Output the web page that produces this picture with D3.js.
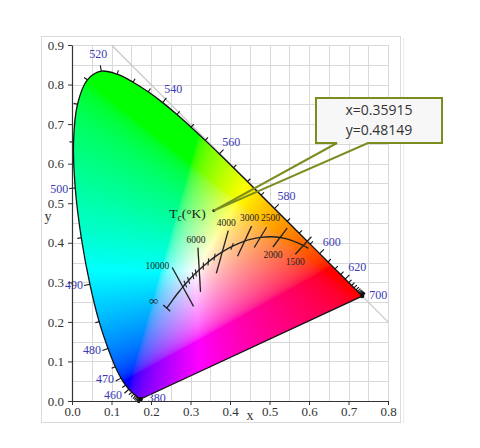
<!DOCTYPE html>
<html>
<head>
<meta charset="utf-8">
<script src="https://cdn.jsdelivr.net/npm/d3@7"></script>
<style>
  html, body { margin: 0; padding: 0; background: #fff; }
  svg { display: block; }
</style>
</head>
<body>
<script>
// CIE 1931 chromaticity diagram with Planckian locus and a hover tooltip

// spectral locus, nm and xy chromaticity
const wavelengths = [380,385,390,395,400,405,410,415,420,425,430,435,440,445,450,455,460,465,470,475,
  480,485,490,495,500,505,510,515,520,525,530,535,540,545,550,555,560,565,570,575,
  580,585,590,595,600,605,610,615,620,625,630,635,640,645,650,655,660,665,670,675,
  680,685,690,695,700];
const locusX = [0.1741,0.1740,0.1738,0.1736,0.1733,0.1730,0.1726,0.1721,0.1714,0.1703,0.1689,0.1669,0.1644,0.1611,0.1566,0.1510,0.1440,0.1355,0.1241,0.1096,
  0.0913,0.0687,0.0454,0.0235,0.0082,0.0039,0.0139,0.0389,0.0743,0.1142,0.1547,0.1929,0.2296,0.2658,0.3016,0.3373,0.3731,0.4087,0.4441,0.4788,
  0.5125,0.5448,0.5752,0.6029,0.6270,0.6482,0.6658,0.6801,0.6915,0.7006,0.7079,0.7140,0.7190,0.7230,0.7260,0.7283,0.7300,0.7311,0.7320,0.7327,
  0.7334,0.7340,0.7344,0.7346,0.7347];
const locusY = [0.0050,0.0050,0.0049,0.0049,0.0048,0.0048,0.0048,0.0048,0.0051,0.0058,0.0069,0.0086,0.0109,0.0138,0.0177,0.0227,0.0297,0.0399,0.0578,0.0868,
  0.1327,0.2007,0.2950,0.4127,0.5384,0.6548,0.7502,0.8120,0.8338,0.8262,0.8059,0.7816,0.7543,0.7243,0.6923,0.6589,0.6245,0.5896,0.5547,0.5202,
  0.4866,0.4544,0.4242,0.3965,0.3725,0.3514,0.3340,0.3197,0.3083,0.2993,0.2920,0.2859,0.2809,0.2770,0.2740,0.2717,0.2700,0.2689,0.2680,0.2673,
  0.2666,0.2660,0.2656,0.2654,0.2653];
const labeledWavelengths = [380,460,470,480,490,500,520,540,560,580,600,620,700];

// Planckian locus, K and xy
const planckT = [Infinity,30000,20000,15000,12000,10000,9000,8000,7000,6500,6000,5500,5000,4500,4000,3500,3000,2800,2500,2200,2000,1800,1600,1500,1400];
const planckX = [0.2399,0.2497,0.2565,0.2637,0.2719,0.2807,0.2869,0.2952,0.3064,0.3135,0.3221,0.3325,0.3451,0.3608,0.3805,0.4053,0.4369,0.4518,0.4770,0.5046,0.5267,0.5497,0.5732,0.5857,0.5985];
const planckY = [0.2348,0.2482,0.2577,0.2674,0.2776,0.2884,0.2956,0.3048,0.3166,0.3237,0.3318,0.3411,0.3516,0.3636,0.3768,0.3907,0.4041,0.4086,0.4137,0.4152,0.4133,0.4081,0.3993,0.3931,0.3858];
const isoTemps = [10000,6000,4000,3000,2500,2000,1500];
const minorTemps = [9000,8000,7000,6500,5500,5000,4500,3500];

const xTicks = [0.0,0.1,0.2,0.3,0.4,0.5,0.6,0.7,0.8];
const yTicks = [0.0,0.1,0.2,0.3,0.4,0.5,0.6,0.7,0.8,0.9];

const hoverPoint = [0.35915, 0.48149];

const width = 480, height = 448;
const x = d3.scaleLinear().domain([0, 0.8]).range([72, 388]);
const y = d3.scaleLinear().domain([0, 0.9]).range([401, 45]);

const svg = d3.select('body').append('svg')
    .attr('width', width)
    .attr('height', height);

// light picture frame
svg.append('rect')
    .attr('x', 41.5).attr('y', 36.5)
    .attr('width', 359).attr('height', 386)
    .attr('fill', 'none').attr('stroke', '#dadada');
svg.append('line')
    .attr('x1', 403.5).attr('x2', 403.5).attr('y1', 38).attr('y2', 423)
    .attr('stroke', '#ececec');

// grid every 0.05
const gridX = d3.range(0, 17).map(function(i) { return i * 0.05; });
const gridY = d3.range(0, 19).map(function(i) { return i * 0.05; });
const grid = svg.append('g').attr('stroke', '#d9d9d9').attr('stroke-width', 1);
grid.selectAll('line.vx').data(gridX).enter().append('line')
    .attr('x1', function(d) { return Math.round(x(d)) + 0.5; })
    .attr('x2', function(d) { return Math.round(x(d)) + 0.5; })
    .attr('y1', y(0)).attr('y2', y(0.9));
grid.selectAll('line.hy').data(gridY).enter().append('line')
    .attr('y1', function(d) { return Math.round(y(d)) + 0.5; })
    .attr('y2', function(d) { return Math.round(y(d)) + 0.5; })
    .attr('x1', x(0)).attr('x2', x(0.8));

// x + y = 1 line
svg.append('line')
    .attr('x1', x(0.1)).attr('y1', y(0.9))
    .attr('x2', x(0.8)).attr('y2', y(0.2))
    .attr('stroke', '#c8c8c8').attr('stroke-width', 1.2);

// locus outline in pixels, smoothed, closed by the purple line
const locusPts = wavelengths.map(function(w, i) { return [x(locusX[i]), y(locusY[i])]; });
const locusPath = d3.line().curve(d3.curveCatmullRom)(locusPts) + 'Z';

svg.append('clipPath').attr('id', 'locus-clip')
    .append('path').attr('d', locusPath);

// colour fill: xy -> XYZ -> sRGB, per pixel
function chroma(cx, cy) {
    const X = cx / cy, Y = 1, Z = (1 - cx - cy) / cy;
    let r =  3.2406 * X - 1.5372 * Y - 0.4986 * Z;
    let g = -0.9689 * X + 1.8758 * Y + 0.0415 * Z;
    let b =  0.0557 * X - 0.2040 * Y + 1.0570 * Z;
    r = Math.max(r, 0); g = Math.max(g, 0); b = Math.max(b, 0);
    const m = Math.max(r, g, b) || 1;
    return [r / m, g / m, b / m].map(function(c) {
        c = c <= 0.0031308 ? 12.92 * c : 1.055 * Math.pow(c, 1 / 2.4) - 0.055;
        return Math.round(255 * Math.min(1, c));
    });
}
const x0 = 72, y0 = 45, cw = 316, ch = 356;
const canvas = document.createElement('canvas');
canvas.width = cw; canvas.height = ch;
const ctx = canvas.getContext('2d');
const img = ctx.createImageData(cw, ch);
for (let j = 0; j < ch; j++) {
    const cy = y.invert(y0 + j + 0.5);
    for (let i = 0; i < cw; i++) {
        const cx = x.invert(x0 + i + 0.5);
        const k = (j * cw + i) * 4;
        if (cy <= 0.002) { img.data[k + 3] = 0; continue; }
        const c = chroma(cx, cy);
        img.data[k] = c[0]; img.data[k + 1] = c[1]; img.data[k + 2] = c[2]; img.data[k + 3] = 255;
    }
}
ctx.putImageData(img, 0, 0);
svg.append('image')
    .attr('x', x0).attr('y', y0)
    .attr('width', cw).attr('height', ch)
    .attr('href', canvas.toDataURL())
    .attr('clip-path', 'url(#locus-clip)');

svg.append('path')
    .attr('d', locusPath)
    .attr('fill', 'none')
    .attr('stroke', '#111')
    .attr('stroke-width', 1.3)
    .attr('stroke-linejoin', 'round');

// outward normal of the locus at index i
function locusNormal(i) {
    let a = i, b = i;
    const p = locusPts[i];
    while (a > 0 && Math.hypot(locusPts[a][0] - p[0], locusPts[a][1] - p[1]) < 2.5) a--;
    while (b < locusPts.length - 1 && Math.hypot(locusPts[b][0] - p[0], locusPts[b][1] - p[1]) < 2.5) b++;
    const tx = locusPts[b][0] - locusPts[a][0], ty = locusPts[b][1] - locusPts[a][1];
    const n = Math.hypot(tx, ty) || 1;
    return [ty / n, -tx / n];
}

const ticks = svg.append('g').attr('stroke', '#111').attr('stroke-width', 1.1);
wavelengths.forEach(function(w, i) {
    if (i === 0 || i === wavelengths.length - 1) return;
    const nrm = locusNormal(i);
    const len = labeledWavelengths.indexOf(w) >= 0 ? 6 : 4;
    ticks.append('line')
        .attr('x1', locusPts[i][0]).attr('y1', locusPts[i][1])
        .attr('x2', locusPts[i][0] + nrm[0] * len).attr('y2', locusPts[i][1] + nrm[1] * len);
});
// corner blobs at the ends
[0, wavelengths.length - 1].forEach(function(i) {
    svg.append('circle')
        .attr('cx', locusPts[i][0]).attr('cy', locusPts[i][1])
        .attr('r', 2.2).attr('fill', '#111');
});

// label position: ends go to the right, left flank to the left, the rest along the normal
function labelPos(w) {
    const i = wavelengths.indexOf(w);
    const p = locusPts[i];
    if (i === 0 || i === wavelengths.length - 1) return [p[0] + 16, p[1] + 3];
    const n = locusNormal(i);
    if (n[0] < -0.5) return [p[0] - 16, p[1] + 5 + (n[1] > 0.6 ? 5 : 0)];
    return [p[0] + n[0] * 17, p[1] + n[1] * 17 + 4];
}

svg.append('g').selectAll('text')
    .data(labeledWavelengths).enter().append('text')
    .attr('x', function(w) { return labelPos(w)[0]; })
    .attr('y', function(w) { return labelPos(w)[1]; })
    .attr('text-anchor', 'middle')
    .attr('font-family', '"Liberation Serif", "DejaVu Serif", serif')
    .attr('font-size', 12)
    .attr('fill', '#3b3bb2')
    .text(function(w) { return w; });

// axes
const fmt = d3.format('.1f');
const gx = svg.append('g')
    .attr('transform', 'translate(0,' + y(0) + ')')
    .call(d3.axisBottom(x).tickValues(xTicks).tickFormat(fmt).tickSize(4).tickSizeOuter(0));
const gy = svg.append('g')
    .attr('transform', 'translate(' + x(0) + ',0)')
    .call(d3.axisLeft(y).tickValues(yTicks).tickFormat(fmt).tickSize(4).tickSizeOuter(0));
[gx, gy].forEach(function(g) {
    g.select('.domain').attr('stroke', '#333').attr('stroke-width', 1.2);
    g.selectAll('.tick line').attr('stroke', '#333');
    g.selectAll('.tick text')
        .attr('font-family', '"Liberation Serif", "DejaVu Serif", serif')
        .attr('font-size', 13)
        .attr('fill', '#333');
});
gx.selectAll('.tick text').attr('dy', '0.6em');
gy.selectAll('.tick text').attr('dx', '-1px');

svg.append('text').attr('x', 250).attr('y', 420)
    .attr('text-anchor', 'middle')
    .attr('font-family', '"Liberation Serif", serif').attr('font-size', 14).attr('fill', '#333')
    .text('x');
svg.append('text').attr('x', 48).attr('y', 221)
    .attr('text-anchor', 'middle')
    .attr('font-family', '"Liberation Serif", serif').attr('font-size', 14).attr('fill', '#333')
    .text('y');

// Planckian locus
const planckPts = planckT.map(function(t, i) { return [planckX[i], planckY[i]]; });
svg.append('path')
    .attr('d', d3.line()
        .x(function(d) { return x(d[0]); })
        .y(function(d) { return y(d[1]); })
        .curve(d3.curveCatmullRom)(planckPts))
    .attr('fill', 'none')
    .attr('stroke', '#222')
    .attr('stroke-width', 1.4);

// isotherm direction: normal to the locus in CIE 1960 uv, mapped back to xy
function xyToUv(px, py) { const d = -2 * px + 12 * py + 3; return [4 * px / d, 6 * py / d]; }
function uvToXy(u, v) { const d = 2 * u - 8 * v + 4; return [3 * u / d, 2 * v / d]; }
function isotherm(t, half) {
    const i = planckT.indexOf(t);
    const a = Math.max(0, i - 1), b = Math.min(planckT.length - 1, i + 1);
    const ua = xyToUv(planckX[a], planckY[a]), ub = xyToUv(planckX[b], planckY[b]);
    const tu = ub[0] - ua[0], tv = ub[1] - ua[1], tn = Math.hypot(tu, tv);
    const p = xyToUv(planckX[i], planckY[i]);
    const q = uvToXy(p[0] - tv / tn * 1e-3, p[1] + tu / tn * 1e-3);
    let dx = q[0] - planckX[i], dy = q[1] - planckY[i];
    const dn = Math.hypot(dx, dy);
    dx /= dn; dy /= dn;
    if (dy < 0) { dx = -dx; dy = -dy; }
    return {
        upper: [planckX[i] + dx * half, planckY[i] + dy * half],
        lower: [planckX[i] - dx * half, planckY[i] - dy * half]
    };
}

const iso = svg.append('g').attr('stroke', '#222').attr('stroke-width', 1.3);
const isoLabels = svg.append('g')
    .attr('font-family', '"Liberation Serif", "DejaVu Serif", serif')
    .attr('font-size', 9.5)
    .attr('fill', '#222');
isoTemps.forEach(function(t) {
    const half = t >= 4000 ? 0.056 : (t >= 3000 ? 0.042 : 0.03);
    const s = isotherm(t, half);
    iso.append('line')
        .attr('x1', x(s.upper[0])).attr('y1', y(s.upper[1]))
        .attr('x2', x(s.lower[0])).attr('y2', y(s.lower[1]));
    const lab = isoLabels.append('text').text(t);
    if (t >= 10000) {
        lab.attr('x', x(s.upper[0]) - 3).attr('y', y(s.upper[1]) + 1).attr('text-anchor', 'end');
    } else if (t >= 3000) {
        lab.attr('x', x(s.upper[0]) - 2).attr('y', y(s.upper[1]) - 5).attr('text-anchor', 'middle');
    } else if (t >= 2500) {
        lab.attr('x', x(s.upper[0]) + 4).attr('y', y(s.upper[1]) - 6).attr('text-anchor', 'middle');
    } else {
        lab.attr('x', x(s.lower[0])).attr('y', y(s.lower[1]) + 11).attr('text-anchor', 'middle');
    }
});
minorTemps.forEach(function(t) {
    const s = isotherm(t, 0.009);
    iso.append('line')
        .attr('stroke-width', 1.1)
        .attr('x1', x(s.upper[0])).attr('y1', y(s.upper[1]))
        .attr('x2', x(s.lower[0])).attr('y2', y(s.lower[1]));
});
// end cap at infinity
const cap = isotherm(Infinity, 0.012);
iso.append('line')
    .attr('x1', x(cap.upper[0])).attr('y1', y(cap.upper[1]))
    .attr('x2', x(cap.lower[0])).attr('y2', y(cap.lower[1]));
isoLabels.append('text')
    .attr('x', x(planckX[0]) - 13).attr('y', y(planckY[0]) - 3)
    .attr('text-anchor', 'middle')
    .attr('font-size', 13)
    .text('\u221e');

// tooltip with callout to the hovered point
const tip = [x(hoverPoint[0]), y(hoverPoint[1])];

const tc = svg.append('text')
    .attr('x', tip[0] - 8).attr('y', tip[1] + 7)
    .attr('text-anchor', 'end')
    .attr('font-family', '"Liberation Serif", "DejaVu Serif", serif')
    .attr('font-size', 13.5)
    .attr('fill', '#222');
tc.append('tspan').text('T');
tc.append('tspan').attr('font-size', 9.5).attr('dy', 3).text('c');
tc.append('tspan').attr('dy', -3).text('(\u00b0K)');

svg.append('circle')
    .attr('cx', tip[0]).attr('cy', tip[1]).attr('r', 1.6).attr('fill', '#333');

const box = { left: 316, top: 98, right: 442, bottom: 143, baseA: 337, baseB: 368 };
svg.append('rect')
    .attr('x', box.left).attr('y', box.top)
    .attr('width', box.right - box.left).attr('height', box.bottom - box.top)
    .attr('fill', '#f7f7f7');
svg.append('path')
    .attr('d', 'M' + box.left + ',' + box.top +
        'H' + box.right + 'V' + box.bottom + 'H' + box.baseB +
        'L' + tip[0] + ',' + tip[1] + 'L' + box.baseA + ',' + box.bottom +
        'H' + box.left + 'Z')
    .attr('fill', 'none')
    .attr('stroke', '#7d8c1f')
    .attr('stroke-width', 2)
    .attr('stroke-linejoin', 'miter');

const tt = svg.append('g')
    .attr('font-family', '"Open Sans", "Noto Sans", sans-serif')
    .attr('font-size', 14)
    .attr('fill', '#333')
    .attr('text-anchor', 'middle');
tt.append('text').attr('x', 379).attr('y', 115).text('x=' + hoverPoint[0].toFixed(5));
tt.append('text').attr('x', 379).attr('y', 135).text('y=' + hoverPoint[1].toFixed(5));
</script>
</body>
</html>
